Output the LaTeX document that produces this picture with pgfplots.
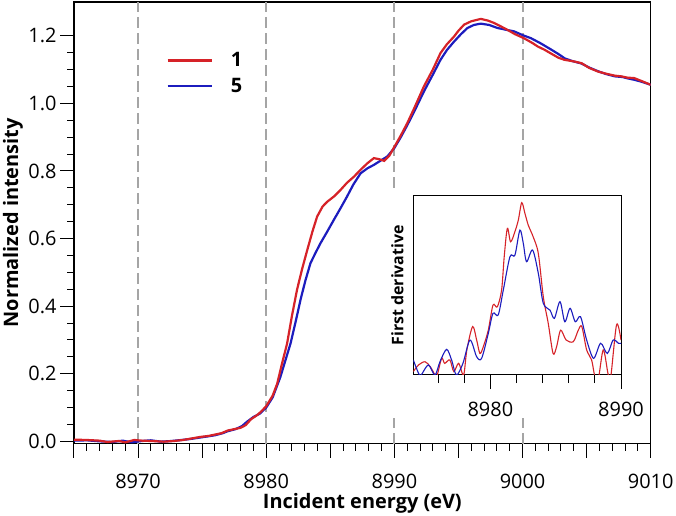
\documentclass[border=0pt]{standalone}
\usepackage{fontspec}
\setmainfont{Open Sans}
\usepackage{pgfplots}
\pgfplotsset{compat=1.18}
\definecolor{cred}{RGB}{214,34,40}
\definecolor{cblue}{RGB}{28,28,190}
\definecolor{dgray}{RGB}{165,165,165}
\begin{document}
\begin{tikzpicture}
\useasboundingbox (-74bp,-72.3bp) rectangle (602bp,443.7bp);
\begin{axis}[
  at={(0,0)}, anchor=south west,
  width=576.7bp, height=441.7bp, scale only axis,
  xmin=8965, xmax=9010, ymin=-0.007, ymax=1.30,
  xtick={8965,8970,...,9010},
  xticklabels={,8970,,8980,,8990,,9000,,9010},
  minor x tick num=4,
  ytick={0,0.2,0.4,0.6,0.8,1.0,1.2},
  minor y tick num=3,
  yticklabel style={/pgf/number format/.cd,fixed,fixed zerofill,precision=1},
  /pgf/number format/assume math mode=true,
  tick align=outside, xtick pos=bottom, ytick pos=left,
  major tick length=14bp, minor tick length=7bp,
  every tick/.style={black,line width=1bp},
  axis line style={line width=1.2bp},
  ticklabel style={font=\fontsize{20}{20}\selectfont},
  xticklabel style={yshift=-13bp},
  xlabel={Incident energy (eV)},
  ylabel={Normalized intensity},
  every axis x label/.style={at={(rel axis cs:0.5,0)}, anchor=base, yshift=-65bp, font=\fontsize{20}{20}\selectfont\bfseries},
  every axis y label/.style={at={(rel axis cs:-0.1058,0.5)}, rotate=90, anchor=center, font=\fontsize{20}{20}\selectfont\bfseries},
  reverse legend,
  legend cell align=left,
  legend style={draw=none, fill=none, at={(rel axis cs:0.155,0.895)}, anchor=north west,
    font=\fontsize{20}{20}\selectfont\bfseries, row sep=6bp},
  legend image code/.code={\draw[#1] (0bp,0bp) -- (44bp,0bp); \path (60bp,0bp);},
]
\foreach \xx in {8970,8980,8990,9000}{
  \edef\tmp{\noexpand\draw[dgray, line width=2bp, dash pattern=on 11bp off 5bp] (axis cs:\xx,-0.007) -- (axis cs:\xx,1.30);}
  \tmp
}
\fill[white] (axis cs:8989.7,0.069) rectangle (axis cs:9009.3,0.744);
\addplot[cblue, line width=2.2bp] coordinates {
(8965,0.002)(8966,0.003)(8967,0.000)(8968,-0.002)(8968.8,0.002)(8969.5,-0.003)(8970.3,0.001)(8971,0.003)(8971.8,-0.001)(8972.6,0.001)(8973.4,0.004)(8974.1,0.007)(8974.8,0.011)(8975.5,0.015)(8976,0.018)(8976.6,0.024)(8977,0.030)(8977.6,0.036)(8978.1,0.045)(8978.5,0.058)(8979,0.072)(8979.5,0.082)(8980,0.100)(8980.5,0.13)(8981.1,0.19)(8981.5,0.24)(8981.9,0.29)(8982.3,0.355)(8982.67,0.418)(8983.05,0.475)(8983.45,0.527)(8983.85,0.558)(8984.23,0.586)(8984.75,0.62)(8985.27,0.655)(8985.8,0.69)(8986.3,0.724)(8986.8,0.76)(8987.36,0.793)(8987.9,0.808)(8988.4,0.818)(8988.9,0.83)(8989.45,0.843)(8990,0.868)(8990.5,0.9)(8991,0.935)(8991.6,0.98)(8992.3,1.035)(8993,1.085)(8993.6,1.129)(8994.1,1.158)(8994.66,1.183)(8995.2,1.205)(8995.7,1.223)(8996.2,1.232)(8996.74,1.236)(8997.4,1.232)(8998.05,1.223)(8998.7,1.218)(8999.35,1.213)(9000,1.202)(9000.65,1.193)(9001.4,1.178)(9002.2,1.160)(9002.8,1.146)(9003.3,1.133)(9003.9,1.125)(9004.6,1.118)(9005.2,1.106)(9005.9,1.095)(9006.5,1.087)(9007.2,1.080)(9007.8,1.078)(9008.2,1.074)(9008.7,1.070)(9009.3,1.064)(9010,1.055)
};
\addlegendentry{5}
\addplot[cred, line width=2.2bp] coordinates {
(8965,0.005)(8966,0.004)(8967,0.002)(8967.6,-0.002)(8968.5,0.001)(8969,-0.003)(8969.7,0.004)(8970.3,0.002)(8971,0.001)(8972,-0.001)(8972.8,0.001)(8973.5,0.004)(8974.1,0.008)(8974.85,0.013)(8975.5,0.016)(8976,0.020)(8976.5,0.024)(8977,0.032)(8977.5,0.036)(8978,0.040)(8978.4,0.048)(8978.8,0.065)(8979.3,0.078)(8979.6,0.088)(8980,0.104)(8980.5,0.135)(8980.85,0.17)(8981.2,0.225)(8981.63,0.29)(8982,0.37)(8982.4,0.448)(8982.8,0.51)(8983.2,0.566)(8983.6,0.62)(8983.97,0.665)(8984.4,0.695)(8984.76,0.709)(8985.3,0.725)(8985.8,0.744)(8986.3,0.765)(8986.84,0.783)(8987.4,0.805)(8987.9,0.823)(8988.4,0.838)(8988.8,0.835)(8989.2,0.830)(8989.6,0.845)(8990.1,0.878)(8990.5,0.905)(8991.0,0.941)(8991.6,0.99)(8992.3,1.05)(8993,1.10)(8993.6,1.149)(8994.1,1.175)(8994.66,1.198)(8995.0,1.215)(8995.44,1.233)(8996,1.243)(8996.74,1.250)(8997.3,1.245)(8997.78,1.238)(8998.3,1.228)(8998.8,1.218)(8999.4,1.205)(9000.1,1.193)(9000.8,1.178)(9001.2,1.168)(9001.7,1.159)(9002.2,1.148)(9002.8,1.135)(9003.26,1.129)(9003.9,1.125)(9004.6,1.119)(9005.2,1.105)(9005.9,1.094)(9006.5,1.088)(9007.2,1.082)(9007.7,1.080)(9008.2,1.076)(9008.7,1.075)(9009.3,1.066)(9010,1.055)
};
\addlegendentry{1}
\end{axis}
\begin{axis}[
  at={(339.3bp,68.7bp)}, anchor=south west,
  width=207.7bp, height=179.3bp, scale only axis,
  xmin=8974.1, xmax=8990, ymin=0, ymax=1,
  xtick={8980,8990}, minor xtick={8976,8978,...,8988},
  ytick=\empty,
  /pgf/number format/assume math mode=true,
  /pgf/number format/1000 sep={},
  tick align=outside, xtick pos=bottom,
  major tick length=14bp, minor tick length=8bp,
  every tick/.style={black,line width=1bp},
  axis line style={line width=1bp},
  ticklabel style={font=\fontsize{20}{20}\selectfont},
  xticklabel style={yshift=-10bp},
  ylabel={First derivative},
  ylabel style={font=\fontsize{16}{16}\selectfont\bfseries, at={(rel axis cs:-0.03,0.5)}, anchor=south},
  axis background/.style={fill=white},
]
\addplot[cred, line width=1.1bp, smooth, tension=0.5] coordinates {
(8974.1,0.019)(8974.5,0.056)(8975.0,0.074)(8975.4,0.046)(8975.76,0.0)(8975.9,-0.01)(8976.27,0.093)(8976.5,0.065)(8976.9,0.084)(8977.2,0.019)(8977.57,0.065)(8977.95,0.0)(8978.2,0.14)(8978.64,0.27)(8978.95,0.195)(8979.2,0.12)(8979.46,0.158)(8979.84,0.25)(8980.2,0.39)(8980.53,0.38)(8980.86,0.474)(8981.06,0.66)(8981.3,0.818)(8981.55,0.743)(8981.88,0.80)(8982.14,0.864)(8982.4,0.961)(8982.65,0.90)(8982.9,0.836)(8983.28,0.77)(8983.67,0.678)(8984.05,0.437)(8984.43,0.288)(8984.8,0.12)(8985.07,0.158)(8985.38,0.25)(8985.8,0.195)(8986.35,0.186)(8986.73,0.25)(8987.0,0.27)(8987.37,0.14)(8987.75,0.084)(8988.0,-0.01)(8988.25,-0.03)(8988.64,0.14)(8989.0,0.01)(8989.2,-0.02)(8989.66,0.28)(8990,0.195)
};
\addplot[cblue, line width=1.1bp, smooth, tension=0.5] coordinates {
(8974.1,0.084)(8974.5,0.01)(8974.7,0.0)(8975.25,0.056)(8975.76,0.0)(8976.14,0.074)(8976.65,0.143)(8977.03,0.084)(8977.4,0.0)(8977.9,0.065)(8978.44,0.195)(8978.95,0.102)(8979.33,0.093)(8979.84,0.232)(8980.2,0.344)(8980.6,0.335)(8980.99,0.474)(8981.5,0.66)(8981.88,0.669)(8982.26,0.808)(8982.52,0.734)(8982.77,0.632)(8983.23,0.697)(8983.67,0.567)(8984.05,0.40)(8984.56,0.362)(8984.9,0.316)(8985.33,0.409)(8985.7,0.297)(8986.1,0.372)(8986.5,0.297)(8986.9,0.325)(8987.37,0.195)(8987.9,0.093)(8988.44,0.177)(8988.95,0.12)(8989.4,0.195)(8989.8,0.177)(8990,0.177)
};
\end{axis}
\end{tikzpicture}
\end{document}
